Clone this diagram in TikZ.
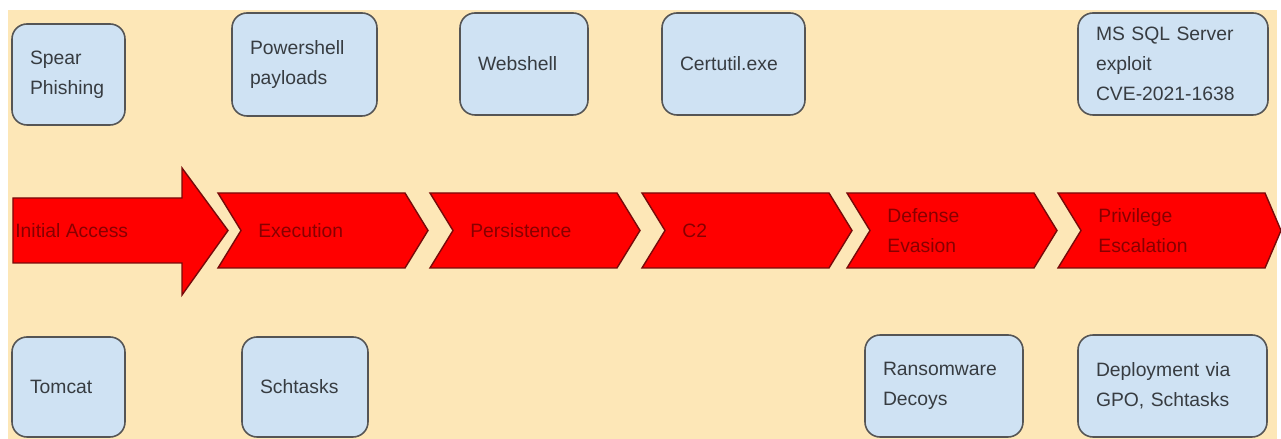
\documentclass[tikz,border=0pt]{standalone}
\usepackage{fontspec}
\setmainfont{Liberation Sans}
\usepackage{tikz}
\usetikzlibrary{positioning}

\definecolor{bgbeige}{RGB}{253,231,183}
\definecolor{toolblue}{RGB}{207,226,243}
\definecolor{toolline}{RGB}{85,85,85}
\definecolor{tooltext}{RGB}{55,60,65}
\definecolor{stagered}{RGB}{255,0,0}
\definecolor{stageline}{RGB}{120,10,10}
\definecolor{stagetext}{RGB}{135,0,0}

\tikzset{
  tool/.style={draw=toolline, line width=0.9pt, fill=toolblue, rounded corners=0.3cm,
    inner xsep=0.36cm, inner ysep=0pt, align=left, text=tooltext,
    font=\fontsize{11}{17}\selectfont},
  stage/.style={draw=stageline, line width=0.8pt, fill=stagered},
  stagelabel/.style={anchor=west, align=left, inner sep=0pt, text=stagetext,
    font=\fontsize{11}{17}\selectfont}
}

\begin{document}
\begin{tikzpicture}
\useasboundingbox (0,0) rectangle (25.62,8.78);
\fill[bgbeige] (0.16,0) rectangle (25.54,8.58);

%stages
\draw[stage] (0.26,3.52) -- (3.64,3.52) -- (3.64,2.88) -- (4.56,4.17) -- (3.64,5.42) -- (3.64,4.82) -- (0.26,4.82) -- cycle;
\draw[stage] (4.36,4.92) -- (8.1,4.92) -- (8.56,4.17) -- (8.1,3.42) -- (4.36,3.42) -- (4.82,4.17) -- cycle;
\draw[stage] (8.6,4.92) -- (12.34,4.92) -- (12.8,4.17) -- (12.34,3.42) -- (8.6,3.42) -- (9.06,4.17) -- cycle;
\draw[stage] (12.84,4.92) -- (16.58,4.92) -- (17.04,4.17) -- (16.58,3.42) -- (12.84,3.42) -- (13.3,4.17) -- cycle;
\draw[stage] (16.94,4.92) -- (20.68,4.92) -- (21.14,4.17) -- (20.68,3.42) -- (16.94,3.42) -- (17.4,4.17) -- cycle;
\draw[stage] (21.16,4.92) -- (25.3,4.92) -- (25.62,4.17) -- (25.3,3.42) -- (21.16,3.42) -- (21.62,4.17) -- cycle;

\node[stagelabel] (initial) at (0.3,4.17) {Initial Access};
\node[stagelabel] (exec) at (5.16,4.17) {Execution};
\node[stagelabel] (persist) at (9.4,4.17) {Persistence};
\node[stagelabel] (ctwo) at (13.64,4.17) {C2};
\node[stagelabel] (evasion) at (17.74,4.17) {Defense\\Evasion};
\node[stagelabel] (privesc) at (21.96,4.17) {Privilege\\Escalation};

%top row
\node[tool, minimum width=2.26cm, minimum height=2.02cm, text width=1.54cm] (spear) at (1.37,7.29) {Spear\\Phishing};
\node[tool, minimum width=2.9cm, minimum height=2.06cm, text width=2.18cm] (powershell) at (6.09,7.49) {Powershell\\payloads};
\node[tool, minimum width=2.56cm, minimum height=2.04cm, text width=1.84cm] (webshell) at (10.48,7.5) {Webshell};
\node[tool, minimum width=2.86cm, minimum height=2.04cm, text width=2.14cm] (certutil) at (14.67,7.5) {Certutil.exe};
\node[tool, minimum width=3.8cm, minimum height=2.04cm, text width=3.08cm] (mssql) at (23.46,7.5) {MS SQL Server\\exploit\\CVE-2021-1638};

%bottom row
\node[tool, minimum width=2.26cm, minimum height=2cm, text width=1.54cm] (tomcat) at (1.37,1.04) {Tomcat};
\node[tool, minimum width=2.52cm, minimum height=2cm, text width=1.8cm] (schtasks) at (6.1,1.04) {Schtasks};
\node[tool, minimum width=3.16cm, minimum height=2.04cm, text width=2.44cm] (ransom) at (18.88,1.06) {Ransomware\\Decoys};
\node[tool, minimum width=3.78cm, minimum height=2.04cm, text width=3.06cm] (gpo) at (23.45,1.06) {Deployment via\\GPO, Schtasks};
\end{tikzpicture}
\end{document}
